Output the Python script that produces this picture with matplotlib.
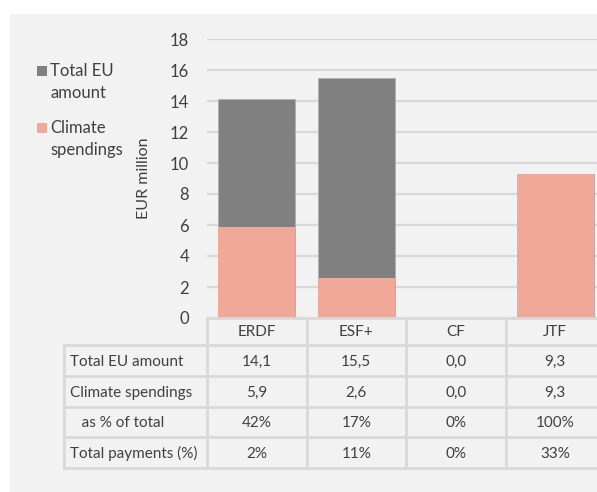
import matplotlib
matplotlib.use("Agg")
import matplotlib.pyplot as plt
from matplotlib.patches import Rectangle

categories = ["ERDF", "ESF+", "CF", "JTF"]
total_eu = [14.1, 15.5, 0.0, 9.3]
climate = [5.9, 2.6, 0.0, 9.3]
row_labels = ["Total EU amount", "Climate spendings", "   as % of total", "Total payments (%)"]
table_text = [
    ["14,1", "15,5", "0,0", "9,3"],
    ["5,9", "2,6", "0,0", "9,3"],
    ["42%", "17%", "0%", "100%"],
    ["2%", "11%", "0%", "33%"],
]
yticks = [0, 2, 4, 6, 8, 10, 12, 14, 16, 18]

plt.rcParams['font.family'] = ['Lato', 'DejaVu Sans']
W, H = 597, 492
fig = plt.figure(figsize=(W / 100, H / 100), dpi=100)
fig.patch.set_facecolor("white")

BG = "#f2f2f2"
GRID = "#d9d9d9"
TXT = "#404040"
GRAY = "#808080"
SALMON = "#f0a898"
FS = 11

# background panel
fig.patches.append(Rectangle((10 / W, 0), 1 - 10 / W, 1 - 14 / H, transform=fig.transFigure,
                             facecolor=BG, edgecolor="none", zorder=-10))

def fx(px):
    return px / W

def fy(py):
    return 1 - py / H

# main axes
ax_l, ax_r, ax_t, ax_b = 207, 605, 39, 318
ax = fig.add_axes([fx(ax_l), fy(ax_b), (ax_r - ax_l) / W, (ax_b - ax_t) / H])
ax.set_facecolor("none")
x = list(range(len(categories)))
ax.bar(x, total_eu, width=0.775, color=GRAY, edgecolor="#b0b0b0", linewidth=0.6, zorder=3)
ax.bar(x, climate, width=0.775, color=SALMON, edgecolor="none", zorder=4)
ax.set_xlim(-0.5, 3.5)
ax.set_ylim(0, 18)
ax.set_yticks(yticks)
ax.set_yticklabels([str(t) for t in yticks], color=TXT, fontsize=12)
ax.tick_params(axis="y", length=0, pad=13)
ax.set_xticks([])
ax.grid(axis="y", color=GRID, linewidth=1.6, zorder=0)
for s in ax.spines.values():
    s.set_visible(False)
ax.set_ylabel("EUR million", color=TXT, fontsize=11.5)
ax.yaxis.set_label_coords(-(207 - 151) / (ax_r - ax_l), 0.5)

# table axes
tab_l = 64
unit = (ax_r - ax_l) / 4.0
tab = fig.add_axes([fx(tab_l), fy(468), (ax_r - tab_l) / W, (468 - 318) / H])
tab.set_xlim(-0.5 - (ax_l - tab_l) / unit, 3.5)
tab.set_ylim(468, 318)
tab.axis("off")
tab.set_facecolor("none")

row_edges = [318, 345, 376, 407, 437, 468]
x_left = -0.5 - (ax_l - tab_l) / unit
lw = 2.0
tab.plot([-0.5, 3.5], [318, 318], color=GRID, lw=lw, clip_on=False)
for yy in row_edges[1:]:
    tab.plot([x_left, 3.5], [yy, yy], color=GRID, lw=lw, clip_on=False)
for i in range(5):
    xv = i - 0.5
    tab.plot([xv, xv], [318, 468], color=GRID, lw=lw, clip_on=False)
tab.plot([x_left, x_left], [345, 468], color=GRID, lw=lw, clip_on=False)

for i, c in enumerate(categories):
    tab.text(i, (318 + 345) / 2 + 1, c, ha="center", va="center", color=TXT, fontsize=FS)
for r, (lab, vals) in enumerate(zip(row_labels, table_text)):
    yc = (row_edges[r + 1] + row_edges[r + 2]) / 2 + 1
    tab.text(x_left + 6 / unit, yc, lab, ha="left", va="center", color=TXT, fontsize=FS)
    for i, v in enumerate(vals):
        tab.text(i, yc, v, ha="center", va="center", color=TXT, fontsize=FS)

# legend
fig.patches.append(Rectangle((fx(37), fy(76)), 10 / W, 10 / H, transform=fig.transFigure,
                             facecolor=GRAY, edgecolor="none"))
fig.patches.append(Rectangle((fx(37), fy(133)), 10 / W, 10 / H, transform=fig.transFigure,
                             facecolor=SALMON, edgecolor="none"))
for txt, yy in [("Total EU", 71), ("amount", 92.5), ("Climate", 128), ("spendings", 149.5)]:
    fig.text(fx(50), fy(yy), txt, ha="left", va="center", color=TXT, fontsize=12)

fig.savefig("out.png", dpi=100, facecolor="white")
